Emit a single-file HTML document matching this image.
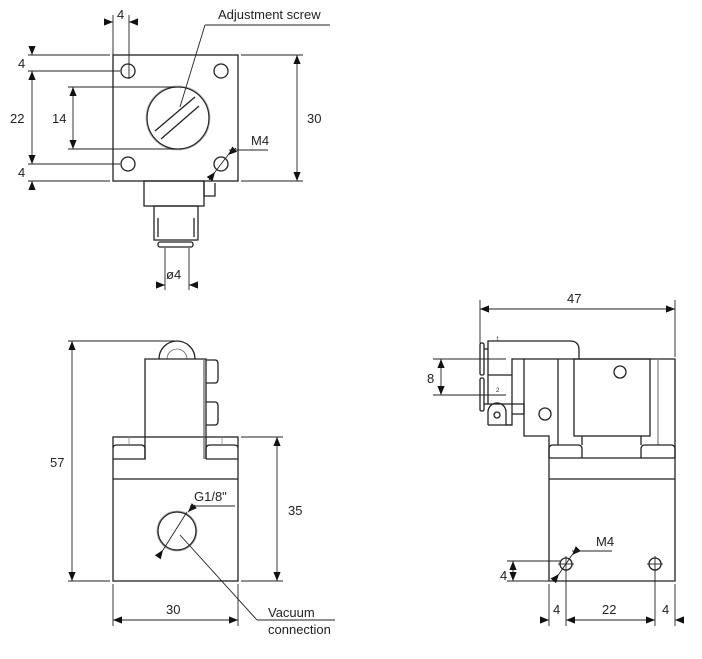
<!DOCTYPE html>
<html><head><style>
html,body{margin:0;padding:0;background:#fff;}
svg{display:block;}
text{font-family:"Liberation Sans",sans-serif;fill:#222;}
</style></head><body>
<svg width="702" height="659" viewBox="0 0 702 659" xmlns="http://www.w3.org/2000/svg">
<defs>
<marker id="a" viewBox="0 0 10 10" refX="10" refY="5" markerWidth="9" markerHeight="9" orient="auto-start-reverse" markerUnits="userSpaceOnUse"><path d="M0,1 L10,5 L0,9z" fill="#111"/></marker>
</defs>
<g stroke="#222" stroke-width="1.3" fill="none">
<!-- TOP VIEW -->
<rect x="113" y="55" width="125" height="126"/>
<circle cx="128" cy="71" r="7"/><circle cx="221" cy="71" r="7"/>
<circle cx="128" cy="164" r="7"/><circle cx="221" cy="164" r="7"/>
<circle cx="178" cy="118" r="31"/><circle cx="178" cy="118" r="32" stroke="#aaa" stroke-width="0.8"/>
<line x1="155" y1="131" x2="195" y2="97"/><line x1="161" y1="139" x2="199" y2="106"/>
<rect x="144" y="181" width="60" height="25"/>
<path d="M204,181 V196 H215 V183"/>
<rect x="154" y="206" width="44" height="34"/>
<line x1="158" y1="218" x2="158" y2="237"/><line x1="194" y1="218" x2="194" y2="237"/>
<rect x="158" y="242" width="35" height="5" rx="2"/>
</g>
<g stroke="#222" stroke-width="0.9" fill="none">
<line x1="113" y1="15" x2="113" y2="55"/><line x1="129" y1="15" x2="129" y2="79"/>
<line x1="104" y1="22" x2="113" y2="22" marker-end="url(#a)"/><line x1="138" y1="22" x2="129" y2="22" marker-end="url(#a)"/>
<line x1="28" y1="55" x2="110" y2="55"/><line x1="28" y1="71" x2="120" y2="71"/>
<line x1="28" y1="164" x2="120" y2="164"/><line x1="28" y1="181" x2="110" y2="181"/>
<line x1="32" y1="46" x2="32" y2="55" marker-end="url(#a)"/>
<line x1="32" y1="71" x2="32" y2="164" marker-start="url(#a)" marker-end="url(#a)"/>
<line x1="32" y1="190" x2="32" y2="181" marker-end="url(#a)"/>
<line x1="68" y1="87" x2="178" y2="87"/><line x1="68" y1="149" x2="178" y2="149"/>
<line x1="73" y1="87" x2="73" y2="149" marker-start="url(#a)" marker-end="url(#a)"/>
<line x1="241" y1="55" x2="303" y2="55"/><line x1="241" y1="181" x2="303" y2="181"/>
<line x1="297" y1="55" x2="297" y2="181" marker-start="url(#a)" marker-end="url(#a)"/>
<line x1="209" y1="180" x2="215" y2="172" marker-end="url(#a)"/>
<line x1="215" y1="172" x2="228" y2="155"/>
<line x1="236" y1="148" x2="228" y2="155" marker-end="url(#a)"/>
<line x1="229" y1="150" x2="268" y2="150"/>
<line x1="205" y1="25" x2="180" y2="107"/><line x1="205" y1="25" x2="330" y2="25"/>
<line x1="165" y1="248" x2="165" y2="290"/><line x1="189" y1="248" x2="189" y2="290"/>
<line x1="156" y1="285" x2="165" y2="285" marker-end="url(#a)"/><line x1="198" y1="285" x2="189" y2="285" marker-end="url(#a)"/>
</g>
<text x="117" y="19" font-size="13">4</text>
<text x="218" y="19" font-size="13">Adjustment screw</text>
<text x="18" y="68" font-size="13">4</text>
<text x="10" y="123" font-size="13">22</text>
<text x="52" y="123" font-size="13">14</text>
<text x="18" y="177" font-size="13">4</text>
<text x="307" y="123" font-size="13">30</text>
<text x="251" y="145" font-size="13">M4</text>
<text x="166" y="279" font-size="13">ø4</text>

<!-- FRONT VIEW -->
<g stroke="#222" stroke-width="1.3" fill="none">
<rect x="113" y="437" width="125" height="144"/>
<line x1="113" y1="479" x2="238" y2="479"/>
<path d="M159,359 A18,18 0 0 1 195,359"/>
<path d="M167,359 A10,10 0 0 1 187,359" stroke-width="0.8" stroke="#666"/>
<path d="M145,459 V359 H206 V459"/>
<line x1="204" y1="359" x2="204" y2="459" stroke="#666"/>
<path d="M206,360 H215 Q218,360 218,364 V379 Q218,383 215,383 H206"/>
<path d="M206,402 H215 Q218,402 218,406 V421 Q218,425 215,425 H206"/>
<path d="M113,448 Q113,445 117,445 H141 Q145,445 145,449 V459 H113"/>
<path d="M206,459 V449 Q206,445 210,445 H234 Q238,445 238,448"/>
<line x1="206" y1="459" x2="238" y2="459"/>
<line x1="129" y1="437" x2="129" y2="445" stroke="#888" stroke-width="0.8"/>
<line x1="222" y1="437" x2="222" y2="445" stroke="#888" stroke-width="0.8"/>
<circle cx="177" cy="531" r="19"/><circle cx="177" cy="531" r="20" stroke="#999" stroke-width="0.8"/>
</g>
<g stroke="#222" stroke-width="0.9" fill="none">
<line x1="68" y1="341" x2="177" y2="341"/><line x1="68" y1="581" x2="110" y2="581"/>
<line x1="72" y1="341" x2="72" y2="581" marker-start="url(#a)" marker-end="url(#a)"/>
<line x1="241" y1="437" x2="283" y2="437"/><line x1="241" y1="581" x2="283" y2="581"/>
<line x1="277" y1="437" x2="277" y2="581" marker-start="url(#a)" marker-end="url(#a)"/>
<line x1="113" y1="584" x2="113" y2="626"/><line x1="238" y1="584" x2="238" y2="626"/>
<line x1="113" y1="620" x2="238" y2="620" marker-start="url(#a)" marker-end="url(#a)"/>
<line x1="158" y1="557" x2="163" y2="550" marker-end="url(#a)"/>
<line x1="163" y1="550" x2="187" y2="512"/>
<line x1="195" y1="505" x2="188" y2="512" marker-end="url(#a)"/>
<line x1="190" y1="506" x2="235" y2="506"/>
<line x1="180" y1="535" x2="257" y2="620"/><line x1="257" y1="620" x2="335" y2="620"/>
</g>
<text x="50" y="467" font-size="13">57</text>
<text x="288" y="515" font-size="13">35</text>
<text x="166" y="614" font-size="13">30</text>
<text x="194" y="501" font-size="13">G1/8"</text>
<text x="268" y="617" font-size="13">Vacuum</text>
<text x="268" y="634" font-size="13">connection</text>

<!-- SIDE VIEW -->
<g stroke="#222" stroke-width="1.3" fill="none">
<path d="M488,375 V341 H570 Q579,341 579,350 V359"/>
<path d="M512,404 V359 H675 V581 H549 V436 H524 V404"/>
<line x1="524" y1="359" x2="524" y2="404"/>
<line x1="558" y1="359" x2="558" y2="445"/>
<rect x="574" y="359" width="76" height="77"/>
<line x1="658" y1="359" x2="658" y2="445" stroke="#888"/>
<path d="M488,375 H512 M488,375 V404 H512"/>
<rect x="480" y="343" width="4" height="32" rx="1.5"/>
<rect x="480" y="378" width="4" height="33" rx="1.5"/>
<line x1="484" y1="349" x2="488" y2="349"/><line x1="484" y1="404" x2="488" y2="404"/>
<path d="M488,425 V412 A9,9 0 0 1 506,412 V425 H512 V404 H524 V414 H512" />
<path d="M488,425 H512"/>
<circle cx="497" cy="415" r="3"/>
<circle cx="620" cy="372" r="6"/><circle cx="545" cy="414" r="6"/>
<path d="M549,458 V449 Q549,445 553,445 H578 Q582,445 582,449 V458"/>
<path d="M641,458 V449 Q641,445 645,445 H671 Q675,445 675,449 V458"/>
<line x1="582" y1="436" x2="582" y2="445"/><line x1="641" y1="436" x2="641" y2="445"/>
<line x1="549" y1="458" x2="675" y2="458"/>
<line x1="549" y1="479" x2="675" y2="479"/>
<circle cx="566" cy="564" r="6"/><circle cx="655" cy="564" r="6"/>
</g>
<g stroke="#222" stroke-width="0.9" fill="none">
<line x1="480" y1="300" x2="480" y2="343"/><line x1="675" y1="300" x2="675" y2="357"/>
<line x1="480" y1="309" x2="675" y2="309" marker-start="url(#a)" marker-end="url(#a)"/>
<line x1="433" y1="359" x2="506" y2="359"/><line x1="433" y1="395" x2="506" y2="395"/>
<line x1="441" y1="359" x2="441" y2="395" marker-start="url(#a)" marker-end="url(#a)"/>
<line x1="566" y1="556" x2="566" y2="572"/><line x1="558" y1="564" x2="574" y2="564"/>
<line x1="655" y1="556" x2="655" y2="572"/><line x1="647" y1="564" x2="663" y2="564"/>
<line x1="507" y1="561" x2="560" y2="561"/><line x1="507" y1="581" x2="549" y2="581"/>
<line x1="513" y1="561" x2="513" y2="581" marker-start="url(#a)" marker-end="url(#a)"/>
<line x1="549" y1="584" x2="549" y2="626"/><line x1="566" y1="570" x2="566" y2="626"/>
<line x1="655" y1="570" x2="655" y2="626"/><line x1="675" y1="584" x2="675" y2="626"/>
<line x1="540" y1="620" x2="549" y2="620" marker-end="url(#a)"/>
<line x1="566" y1="620" x2="655" y2="620" marker-start="url(#a)" marker-end="url(#a)"/>
<line x1="684" y1="620" x2="675" y2="620" marker-end="url(#a)"/>
<line x1="554" y1="580" x2="559" y2="574" marker-end="url(#a)"/>
<line x1="559" y1="574" x2="572" y2="555"/>
<line x1="578" y1="549" x2="572" y2="555" marker-end="url(#a)"/>
<line x1="572" y1="551" x2="612" y2="551"/>
</g>
<text x="496" y="341" font-size="6">1</text>
<text x="496" y="392" font-size="6">2</text>
<text x="567" y="303" font-size="13">47</text>
<text x="427" y="383" font-size="13">8</text>
<text x="500" y="580" font-size="13">4</text>
<text x="596" y="546" font-size="13">M4</text>
<text x="553" y="614" font-size="13">4</text>
<text x="602" y="614" font-size="13">22</text>
<text x="662" y="614" font-size="13">4</text>
</svg>
</body></html>
